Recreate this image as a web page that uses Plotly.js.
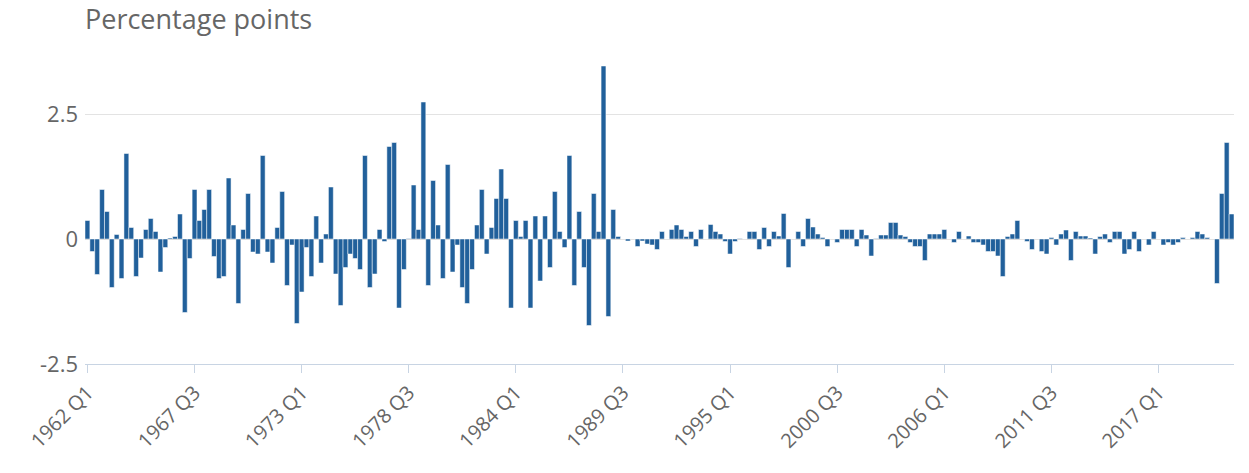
<!DOCTYPE html>
<html>
<head>
<meta charset="utf-8">
<script src="https://cdn.plot.ly/plotly-3.0.1.min.js"></script>
<style>
  html, body { margin: 0; padding: 0; background: #fff; }
  #chart { width: 1249px; height: 473px; }
</style>
</head>
<body>
<div id="chart"></div>
<script>
// Quarterly period range
const startYear = 1962;
const endYear = 2020;

// Values in percentage points, 1962 Q1 .. 2020 Q4
const values = [
  0.37, -0.25, -0.71, 0.99, 0.55, -0.97, 0.09, -0.79, 1.71, 0.23,
  -0.75, -0.38, 0.19, 0.41, 0.15, -0.66, -0.17, 0.02, 0.05, 0.5,
  -1.47, -0.39, 0.99, 0.37, 0.59, 0.99, -0.35, -0.79, -0.75, 1.22,
  0.28, -1.29, 0.19, 0.91, -0.26, -0.3, 1.67, -0.26, -0.48, 0.23,
  0.95, -0.93, -0.12, -1.69, -1.06, -0.17, -0.75, 0.46, -0.48, 0.1,
  1.04, -0.7, -1.33, -0.57, -0.3, -0.39, -0.61, 1.67, -0.97, -0.7,
  0.19, -0.05, 1.85, 1.93, -1.38, -0.61, 0.01, 1.08, 0.19, 2.74,
  -0.93, 1.17, 0.28, -0.79, 1.49, -0.66, -0.12, -0.97, -1.29, -0.61,
  0.28, 0.99, -0.3, 0.23, 0.81, 1.4, 0.81, -1.38, 0.37, 0.05,
  0.37, -1.38, 0.46, -0.84, 0.46, -0.57, 0.95, 0.15, -0.17, 1.67,
  -0.93, 0.55, -0.57, -1.73, 0.91, 0.15, 3.46, -1.55, 0.59, 0.05,
  0.0, -0.04, 0.0, -0.15, -0.04, -0.1, -0.12, -0.21, 0.15, 0.0,
  0.19, 0.28, 0.19, 0.05, 0.15, -0.15, 0.19, 0.0, 0.29, 0.15,
  0.1, -0.05, -0.3, -0.05, 0.01, 0.0, 0.15, 0.15, -0.21, 0.23,
  -0.15, 0.15, 0.06, 0.51, -0.57, 0.0, 0.15, -0.15, 0.41, 0.24,
  0.1, 0.03, -0.15, 0.0, -0.07, 0.19, 0.19, 0.19, -0.15, 0.19,
  0.08, -0.34, 0.01, 0.08, 0.08, 0.33, 0.33, 0.08, 0.05, -0.07,
  -0.15, -0.15, -0.43, 0.1, 0.1, 0.1, 0.19, 0.0, -0.07, 0.15,
  0.0, 0.06, -0.07, -0.07, -0.12, -0.25, -0.25, -0.34, -0.75, 0.05,
  0.1, 0.37, 0.0, -0.05, -0.21, 0.0, -0.25, -0.3, 0.03, -0.12,
  0.1, 0.18, -0.43, 0.15, 0.06, 0.06, 0.02, -0.3, 0.05, 0.1,
  -0.07, 0.15, 0.15, -0.3, -0.21, 0.15, -0.25, 0.0, -0.12, 0.15,
  0.0, -0.12, -0.07, -0.12, -0.07, 0.03, 0.0, 0.03, 0.15, 0.1,
  0.03, 0.0, -0.89, 0.91, 1.93, 0.5
];

// Tick labels shown on the x axis
const tickLabels = ["1962 Q1", "1967 Q3", "1973 Q1", "1978 Q3", "1984 Q1",
  "1989 Q3", "1995 Q1", "2000 Q3", "2006 Q1", "2011 Q3", "2017 Q1"];

const yTicks = [-2.5, 0, 2.5];
const yTickLabels = ["-2.5", "0", "2.5"];

const categories = [];
for (let y = startYear; y <= endYear; y++) {
  for (let q = 1; q <= 4; q++) categories.push(y + " Q" + q);
}

const trace = {
  type: "bar",
  x: categories,
  y: values,
  marker: { color: "#21609b", line: { color: "#ffffff", width: 0.5 } },
  hoverinfo: "x+y"
};

const layout = {
  width: 1249,
  height: 473,
  margin: { l: 85, r: 15, t: 64, b: 109 },
  paper_bgcolor: "#ffffff",
  plot_bgcolor: "#ffffff",
  font: { family: "Open Sans, sans-serif", color: "#666666", size: 20 },
  bargap: 0,
  showlegend: false,
  title: {
    text: "Percentage points",
    font: { family: "Open Sans, sans-serif", size: 27, color: "#666666" },
    xref: "paper", x: 0, xanchor: "left",
    yref: "container", y: 0.958, yanchor: "middle"
  },
  xaxis: {
    type: "category",
    tickmode: "array",
    tickvals: tickLabels,
    ticktext: tickLabels,
    tickangle: -45,
    ticks: "outside",
    ticklen: 8,
    tickcolor: "#c8d4e3",
    showline: true,
    linecolor: "#c8d4e3",
    linewidth: 1,
    showgrid: false,
    zeroline: false,
    tickfont: { size: 20, color: "#666666" }
  },
  yaxis: {
    range: [-2.5, 3.5],
    tickmode: "array",
    tickvals: yTicks,
    ticktext: yTickLabels,
    showgrid: true,
    gridcolor: "#e3e3e3",
    gridwidth: 1,
    zeroline: true,
    zerolinecolor: "#d0d0d0",
    zerolinewidth: 1,
    showline: false,
    ticks: "",
    ticklabelstandoff: 6,
    tickfont: { size: 22, color: "#666666" }
  }
};

Plotly.newPlot("chart", [trace], layout, { displayModeBar: false, staticPlot: true });
</script>
</body>
</html>
